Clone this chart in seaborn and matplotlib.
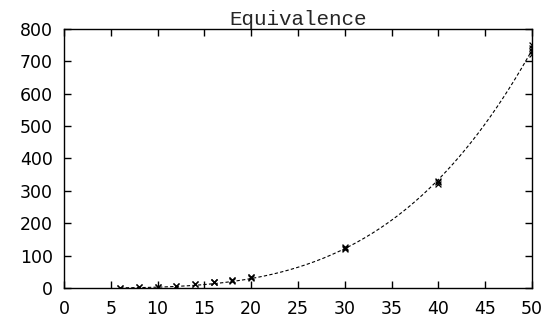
import matplotlib
matplotlib.use("Agg")
import matplotlib.pyplot as plt
import numpy as np
import pandas as pd
import seaborn as sns

# measured sizes (several trials per size)
sizes = [6, 6, 8, 8, 10, 10, 12, 12, 14, 14, 16, 16, 16, 18, 18, 18,
         20, 20, 20, 30, 30, 30, 40, 40, 40, 50, 50, 50, 50]
values = [0.8, 1.2, 1.8, 2.3, 3.5, 4.2, 6.5, 7.5, 11, 12, 17, 18, 20, 23, 24, 26,
          31, 33, 35, 120, 124, 127, 322, 327, 332, 722, 732, 742, 750]

x_ticks = list(range(0, 51, 5))
y_ticks = list(range(0, 801, 100))

df = pd.DataFrame({"size": sizes, "value": values})

# power-law fit (weighted so large values dominate, like a linear-space fit)
b, log_a = np.polyfit(np.log(df["size"]), np.log(df["value"]), 1, w=df["value"])
fit_x = np.linspace(df["size"].min(), df["size"].max(), 200)
fit = pd.DataFrame({"size": fit_x, "value": np.exp(log_a) * fit_x ** b})

sns.set_style("ticks")
fig = plt.figure(figsize=(5.44, 3.26), dpi=100)
ax = fig.add_axes([0.1176, 0.1166, 0.8603, 0.7945])

sns.lineplot(data=fit, x="size", y="value", ax=ax, color="black",
             linewidth=0.8, dashes=False, linestyle=(0, (3, 2)))
sns.scatterplot(data=df, x="size", y="value", ax=ax, marker="x", color="black",
                s=18, linewidth=0.9)

ax.set_xlim(0, 50)
ax.set_ylim(0, 800)
ax.set_xticks(x_ticks)
ax.set_yticks(y_ticks)
ax.set_xlabel("")
ax.set_ylabel("")
for s in ax.spines.values():
    s.set_visible(True)
    s.set_linewidth(1.0)
    s.set_color("black")
ax.tick_params(direction="in", length=5, width=1, top=True, right=True,
               labelsize=12.5, colors="black")
ax.tick_params(axis="x", pad=9)
ax.tick_params(axis="y", pad=8)
for lbl in ax.get_xticklabels() + ax.get_yticklabels():
    lbl.set_family("DejaVu Sans")
ax.set_title("Equivalence", family="Liberation Mono", fontsize=15, pad=3)

fig.savefig("out.png", dpi=100)
